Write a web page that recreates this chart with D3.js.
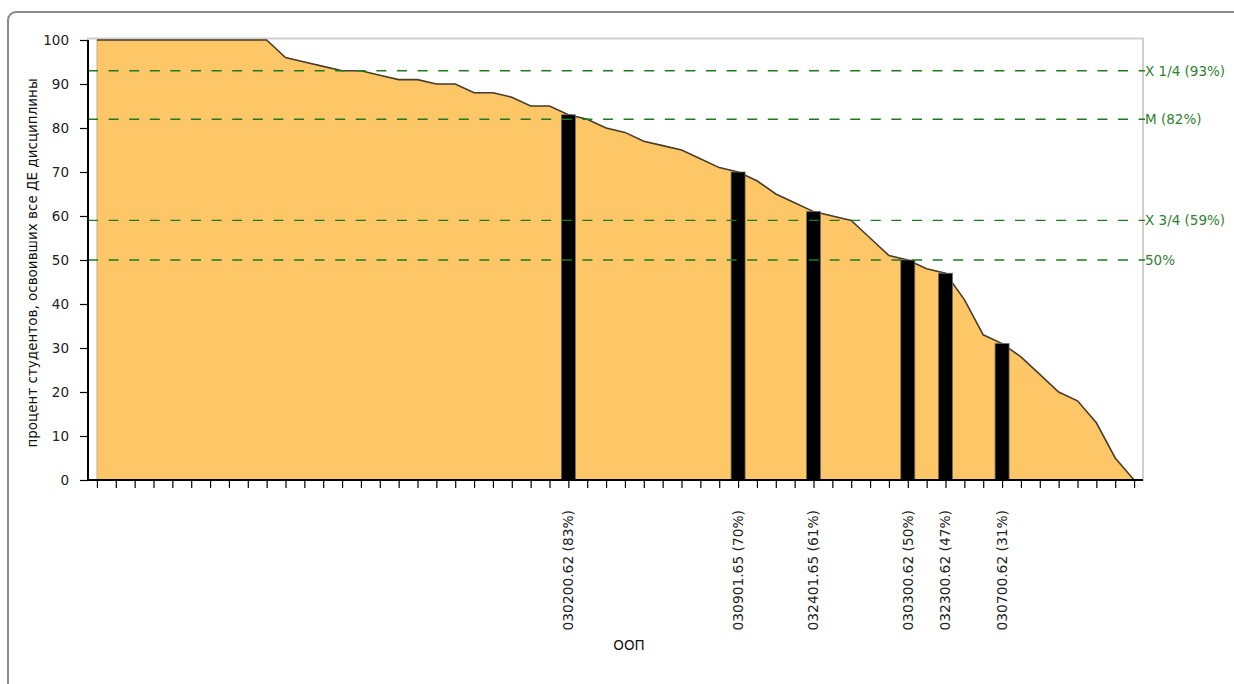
<!DOCTYPE html>
<html>
<head>
<meta charset="utf-8">
<script src="https://cdn.jsdelivr.net/npm/d3@7"></script>
<style>
  html, body { margin: 0; padding: 0; background: #fff; }
  svg { display: block; font-family: "DejaVu Sans", Verdana, sans-serif; }
</style>
</head>
<body>
<svg id="chart" width="1234" height="684"></svg>
<script>
// ---- data ----
const values = [100,100,100,100,100,100,100,100,100,100,
                96,95,94,93,93,92,91,91,90,90,
                88,88,87,85,85,83,82,80,79,77,
                76,75,73,71,70,68,65,63,61,60,
                59,55,51,50,48,47,41,33,31,28,
                24,20,18,13,5,0];
const highlightIndex = [25,34,38,43,45,48];
const highlightValues = [83,70,61,50,47,31];
const highlightLabels = ["030200.62 (83%)","030901.65 (70%)","032401.65 (61%)",
                         "030300.62 (50%)","032300.62 (47%)","030700.62 (31%)"];
const refValues = [93,82,59,50];
const refLabels = ["X 1/4 (93%)","М (82%)","X 3/4 (59%)","50%"];
const yTicks = [0,10,20,30,40,50,60,70,80,90,100];
const yTitle = "процент студентов, освоивших все ДЕ дисциплины";
const xTitle = "ООП";

// ---- layout ----
const svg = d3.select("#chart");
const pLeft = 88, pRight = 1143, pTop = 40, pBottom = 480;

const idx = d3.range(values.length);
const x = d3.scalePoint().domain(idx).range([pLeft - 0.5, pRight + 0.5]).padding(0.5);
const y = d3.scaleLinear().domain([0, 100]).range([pBottom, pTop]);

// outer frame
svg.append("rect")
  .attr("x", 8).attr("y", 12).attr("width", 1240).attr("height", 700)
  .attr("rx", 8).attr("ry", 8)
  .attr("fill", "none").attr("stroke", "#8a8a8a").attr("stroke-width", 2);

// plot area frame
svg.append("rect")
  .attr("x", pLeft).attr("y", pTop - 1.5).attr("width", pRight - pLeft).attr("height", pBottom - pTop + 1.5)
  .attr("fill", "#fff").attr("stroke", "#cfcfcf").attr("stroke-width", 2);

// area
const area = d3.area().x((d, i) => x(i)).y0(y(0)).y1(d => y(d));
svg.append("path").datum(values)
  .attr("d", area)
  .attr("fill", "#fdc767")
  .attr("stroke", "#b9a98a").attr("stroke-width", 0.8);
const line = d3.line().x((d, i) => x(i)).y(d => y(d));
svg.append("path").datum(values)
  .attr("d", line)
  .attr("fill", "none")
  .attr("stroke", "#4a3f2c").attr("stroke-width", 1.6);

// bars
const barW = 14;
svg.append("g").selectAll("rect").data(highlightIndex).join("rect")
  .attr("x", (d) => x(d) - barW / 2)
  .attr("y", (d, i) => y(highlightValues[i]))
  .attr("width", barW)
  .attr("height", (d, i) => y(0) - y(highlightValues[i]))
  .attr("fill", "#000")
  .attr("stroke", "#6b6b6b").attr("stroke-width", 0.8);

// reference lines
const refG = svg.append("g");
refValues.forEach((v, i) => {
  refG.append("line")
    .attr("x1", pLeft).attr("x2", pRight + 2)
    .attr("y1", y(v)).attr("y2", y(v))
    .attr("stroke", "#1f7a1f").attr("stroke-width", 1.4)
    .attr("stroke-dasharray", "10,10.6");
  refG.append("text")
    .attr("x", pRight + 2).attr("y", y(v))
    .attr("dy", "0.36em")
    .attr("font-size", 13.5)
    .attr("fill", "#2f7f2f")
    .text(refLabels[i]);
});

// y axis
const yAxis = d3.axisLeft(y).tickValues(yTicks).tickSize(8).tickPadding(11).tickFormat(d3.format("d"));
const yg = svg.append("g").attr("transform", `translate(${pLeft},0)`).call(yAxis);
yg.select(".domain").attr("stroke", "#000").attr("stroke-width", 2).attr("d", `M0,${pBottom}V${pTop}`);
yg.selectAll(".tick line").attr("stroke", "#000").attr("stroke-width", 1.2);
yg.selectAll(".tick text").attr("font-size", 13.5).attr("fill", "#222").attr("font-family", "DejaVu Sans, sans-serif");

// x axis
const xAxis = d3.axisBottom(x).tickSize(8).tickFormat(() => "");
const xg = svg.append("g").attr("transform", `translate(0,${pBottom})`).call(xAxis);
xg.select(".domain").attr("stroke", "#000").attr("stroke-width", 2).attr("d", `M${pLeft},0H${pRight}`);
xg.selectAll(".tick line").attr("stroke", "#000").attr("stroke-width", 1.2);

// x category labels (rotated)
svg.append("g").selectAll("text").data(highlightIndex).join("text")
  .attr("transform", d => `translate(${x(d)},510) rotate(-90)`)
  .attr("text-anchor", "end")
  .attr("dy", "0.36em")
  .attr("font-size", 13.8)
  .attr("fill", "#222")
  .text((d, i) => highlightLabels[i]);

// axis titles
svg.append("text")
  .attr("transform", `translate(32,263) rotate(-90)`)
  .attr("text-anchor", "middle")
  .attr("dy", "0.36em")
  .attr("font-size", 13.5)
  .attr("fill", "#111")
  .text(yTitle);

svg.append("text")
  .attr("x", 629).attr("y", 645)
  .attr("text-anchor", "middle")
  .attr("dy", "0.36em")
  .attr("font-size", 13.5)
  .attr("fill", "#111")
  .text(xTitle);
</script>
</body>
</html>
